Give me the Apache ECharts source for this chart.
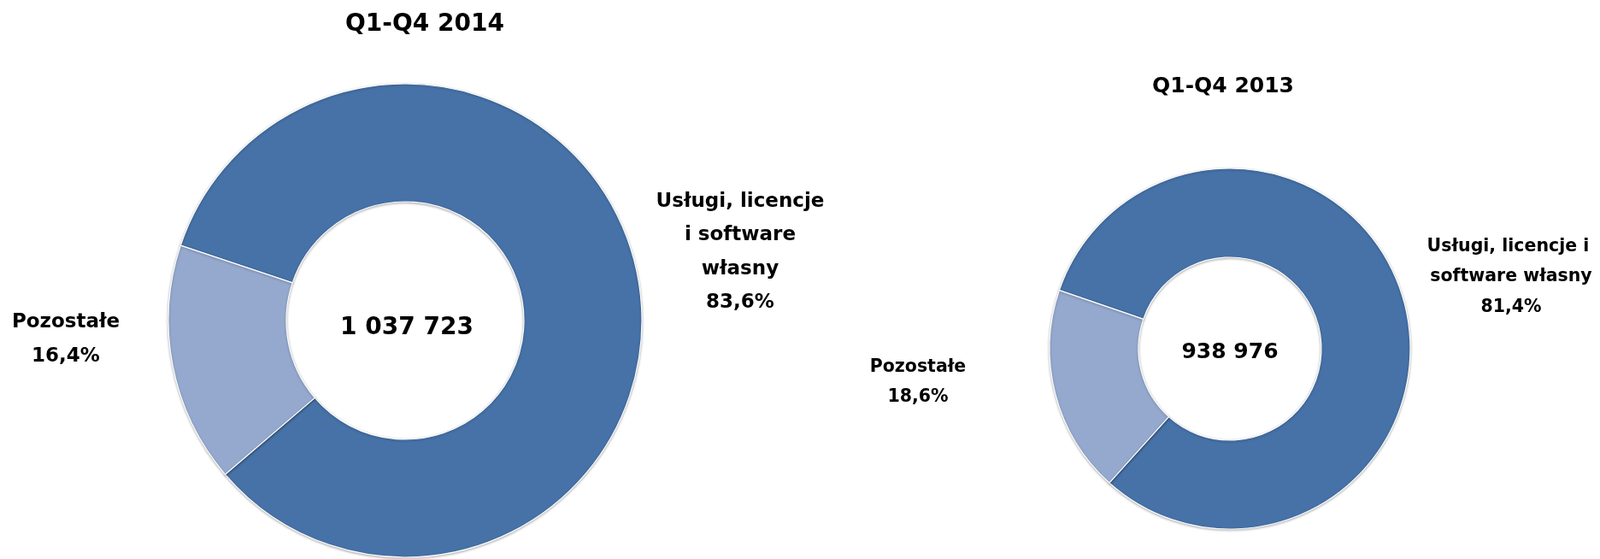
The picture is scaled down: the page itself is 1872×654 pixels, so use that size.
<!DOCTYPE html>
<html>
<head>
<meta charset="utf-8">
<script src="https://cdn.jsdelivr.net/npm/echarts@6/dist/echarts.min.js"></script>
<style>
html,body{margin:0;padding:0;background:#fff;}
#chart{width:1872px;height:654px;}
</style>
</head>
<body>
<div id="chart"></div>
<script>
// ---- data ----
const categories = ['Usługi, licencje i software własny', 'Pozostałe'];
const periods = ['Q1-Q4 2014', 'Q1-Q4 2013'];
const share2014 = [83.6, 16.4];
const share2013 = [81.4, 18.6];
const totals = [1037723, 938976];

// ---- styling / layout ----
const FONT = 'DejaVu Sans';
const colors = ['#4672A8', '#95A9CF'];
const pies = [
  { center: [474, 375], radius: [139, 277], startAngle: 161.5, shares: share2014,
    titlePos: [497, 29], titleSize: 28, totalPos: [476, 384], totalSize: 28,
    labelSize: 23, labelLH: 39.5, labelWidth: 212,
    labelOffsets: [[392, -80], [-397, 22]] },
  { center: [1439, 408], radius: [107, 211], startAngle: 161.1, shares: share2013,
    titlePos: [1431, 101], titleSize: 25, totalPos: [1439, 412], totalSize: 25,
    labelSize: 20.5, labelLH: 35.5, labelWidth: 232,
    labelOffsets: [[329, -84], [-365, 39]] }
];

function fmtTotal(n) {
  return String(n).replace(/\B(?=(\d{3})+(?!\d))/g, ' ');
}
function fmtPct(v) {
  return v.toFixed(1).replace('.', ',') + '%';
}

const titles = [];
pies.forEach((p, i) => {
  titles.push({
    text: periods[i], left: p.titlePos[0], top: p.titlePos[1], padding: 0,
    textAlign: 'center', textVerticalAlign: 'middle',
    textStyle: { fontFamily: FONT, fontWeight: 'bold', fontSize: p.titleSize, color: '#000' }
  });
  titles.push({
    text: fmtTotal(totals[i]), left: p.totalPos[0], top: p.totalPos[1], padding: 0,
    textAlign: 'center', textVerticalAlign: 'middle',
    textStyle: { fontFamily: FONT, fontWeight: 'bold', fontSize: p.totalSize, color: '#000' }
  });
});

const series = pies.map((p, si) => ({
  type: 'pie',
  center: p.center,
  radius: p.radius,
  startAngle: p.startAngle,
  clockwise: true,
  avoidLabelOverlap: false,
  silent: true,
  color: colors,
  itemStyle: {
    borderColor: '#ffffff', borderWidth: 1.2,
    shadowBlur: 3, shadowColor: 'rgba(0,0,0,0.3)', shadowOffsetY: 1
  },
  label: {
    show: true,
    formatter: (prm) => prm.name + '\n' + fmtPct(prm.value),
    fontFamily: FONT, fontWeight: 'bold', fontSize: p.labelSize,
    lineHeight: p.labelLH, color: '#000', align: 'center',
    width: p.labelWidth, overflow: 'break'
  },
  labelLine: { show: false },
  labelLayout: (params) => {
    const off = p.labelOffsets[params.dataIndex];
    return { x: p.center[0] + off[0], y: p.center[1] + off[1], align: 'center', verticalAlign: 'middle' };
  },
  emphasis: { disabled: true },
  data: categories.map((c, i) => ({ name: c, value: p.shares[i] }))
}));

const chart = echarts.init(document.getElementById('chart'), null, { renderer: 'canvas' });
chart.setOption({
  animation: false,
  backgroundColor: '#ffffff',
  title: titles,
  tooltip: { show: false },
  series: series
});
</script>
</body>
</html>
